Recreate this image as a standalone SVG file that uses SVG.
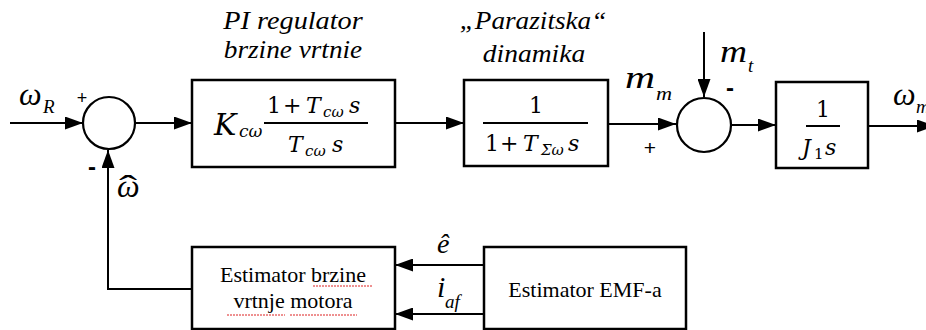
<svg xmlns="http://www.w3.org/2000/svg" width="926" height="330" viewBox="0 0 926 330">
<style>
.box{fill:#fff;stroke:#000;stroke-width:2.5}
.sum{fill:#fff;stroke:#000;stroke-width:2.2}
.ln{fill:none;stroke:#000;stroke-width:2}
.bar{stroke:#000;stroke-width:1.8}
.ttl{font-family:'Liberation Serif',serif;font-style:italic;font-size:25px;text-anchor:middle}
.eq{font-family:'DejaVu Serif',serif;font-size:22px}
.eqi{font-family:'DejaVu Serif',serif;font-style:italic;font-size:22px}
.eqk{font-family:'DejaVu Serif',serif;font-style:italic;font-size:30px}
.sub{font-family:'DejaVu Serif',serif;font-style:italic;font-size:15px}
.subr{font-family:'DejaVu Serif',serif;font-size:15px}
.subk{font-family:'DejaVu Serif',serif;font-style:italic;font-size:17px}
.lbl{font-family:'Liberation Serif',serif;font-style:italic;font-size:32px}
.lbl28{font-family:'Liberation Serif',serif;font-style:italic;font-size:28px}
.lbl30{font-family:'Liberation Serif',serif;font-style:italic;font-size:30px}
.hat{font-family:'Liberation Serif',serif;font-size:34px}
.lsub{font-family:'Liberation Serif',serif;font-style:italic;font-size:19px}
.sgn{font-family:'Liberation Sans',sans-serif;font-size:18px;text-anchor:middle}
.sgn2{font-family:'Liberation Sans',sans-serif;font-size:21px;text-anchor:middle}
.dash{font-family:'Liberation Sans',sans-serif;font-size:24px;font-weight:bold;text-anchor:middle}
.bt{font-family:'Liberation Serif',serif;font-size:22px;text-anchor:middle}
.sp{fill:none;stroke:#d22;stroke-width:1;stroke-dasharray:2 1}
</style>
<defs>
<marker id="ah" markerUnits="userSpaceOnUse" markerWidth="18" markerHeight="13" refX="18" refY="6.5" orient="auto">
<path d="M0,0 L18,6.5 L0,13 z" fill="#000"/>
</marker>
</defs>

<g id="connectors">
<path class="ln" d="M10,123 H83" marker-end="url(#ah)"/>
<path class="ln" d="M135,123 H192" marker-end="url(#ah)"/>
<path class="ln" d="M395,123 H464" marker-end="url(#ah)"/>
<path class="ln" d="M608,124 H676" marker-end="url(#ah)"/>
<path class="ln" d="M704,32 V97" marker-end="url(#ah)"/>
<path class="ln" d="M731,125 H776" marker-end="url(#ah)"/>
<path class="ln" d="M868,126 H935" marker-end="url(#ah)"/>
<path class="ln" d="M192,289 H108 V150" marker-end="url(#ah)"/>
<path class="ln" d="M484,265 H395" marker-end="url(#ah)"/>
<path class="ln" d="M484,314 H395" marker-end="url(#ah)"/>
</g>

<g id="labels">
<text class="lbl" x="19" y="105">ω</text>
<text class="lsub" x="43" y="113">R</text>
<text class="sgn" x="82" y="104">+</text>
<text class="dash" x="92" y="175">-</text>
<text class="lbl" x="117" y="197">ω</text>
<text class="hat" transform="translate(119,199) scale(1.6,1)">ˆ</text>
<text class="lbl" transform="translate(625,88) scale(1.3,1)">m</text>
<text class="lsub" transform="translate(656,100) scale(1.17,1)">m</text>
<text class="sgn2" x="650" y="155">+</text>
<text class="lbl" transform="translate(720,62) scale(1.17,1)">m</text>
<text class="lsub" x="748" y="72">t</text>
<text class="dash" x="730" y="96">-</text>
<text class="lbl" x="893" y="105">ω</text>
<text class="lsub" x="916" y="113">m</text>
<text class="lbl28" x="437" y="253">ê</text>
<text class="lbl30" x="437" y="297">i</text>
<text class="lsub" x="445" y="308">af</text>
</g>

<g id="sum1"><circle class="sum" cx="109" cy="123" r="26"/></g>

<g id="pi">
<text class="ttl" transform="translate(293,29) scale(1.13,1)">PI regulator</text>
<text class="ttl" transform="translate(293,58) scale(1.09,1)">brzine vrtnie</text>
<rect class="box" x="192" y="80" width="203" height="87"/>
<text class="eqk" x="214" y="135">K</text>
<text class="subk" x="239" y="137">cω</text>
<line class="bar" x1="264" y1="123" x2="368" y2="123"/>
<text class="eq" x="267" y="113">1</text>
<text class="eq" x="283" y="113">+</text>
<text class="eqi" x="306" y="113">T</text>
<text class="sub" x="323" y="117">cω</text>
<text class="eqi" x="349" y="113">s</text>
<text class="eqi" x="288" y="152">T</text>
<text class="sub" x="305" y="156">cω</text>
<text class="eqi" x="332" y="152">s</text>
</g>

<g id="parazit">
<text class="ttl" transform="translate(533,29) scale(1.09,1)">„Parazitska“</text>
<text class="ttl" transform="translate(534,62) scale(1.1,1)">dinamika</text>
<rect class="box" x="464" y="80" width="144" height="86"/>
<line class="bar" x1="483" y1="123" x2="588" y2="123"/>
<text class="eq" x="529" y="113">1</text>
<text class="eq" x="485" y="151">1</text>
<text class="eq" x="500" y="151">+</text>
<text class="eqi" x="523" y="151">T</text>
<text class="sub" x="541" y="155">Σω</text>
<text class="eqi" x="568" y="151">s</text>
</g>

<g id="sum2"><circle class="sum" cx="704" cy="125" r="27"/></g>

<g id="plant">
<rect class="box" x="776" y="82" width="92" height="86"/>
<line class="bar" x1="806" y1="126" x2="840" y2="126"/>
<text class="eq" x="816" y="117">1</text>
<text class="eqi" x="802" y="155">J</text>
<text class="subr" x="814" y="159">1</text>
<text class="eqi" x="825" y="155">s</text>
</g>

<g id="est_speed">
<rect class="box" x="192" y="247" width="203" height="82"/>
<text class="bt" x="293" y="282">Estimator brzine</text>
<text class="bt" x="293" y="308">vrtnje motora</text>
<path class="sp" d="M313,286 H372"/>
<path class="sp" d="M227,315 H285"/>
<path class="sp" d="M290,315 H357"/>
</g>

<g id="est_emf">
<rect class="box" x="484" y="247" width="202" height="82"/>
<text class="bt" x="585" y="297">Estimator EMF-a</text>
</g>
</svg>
